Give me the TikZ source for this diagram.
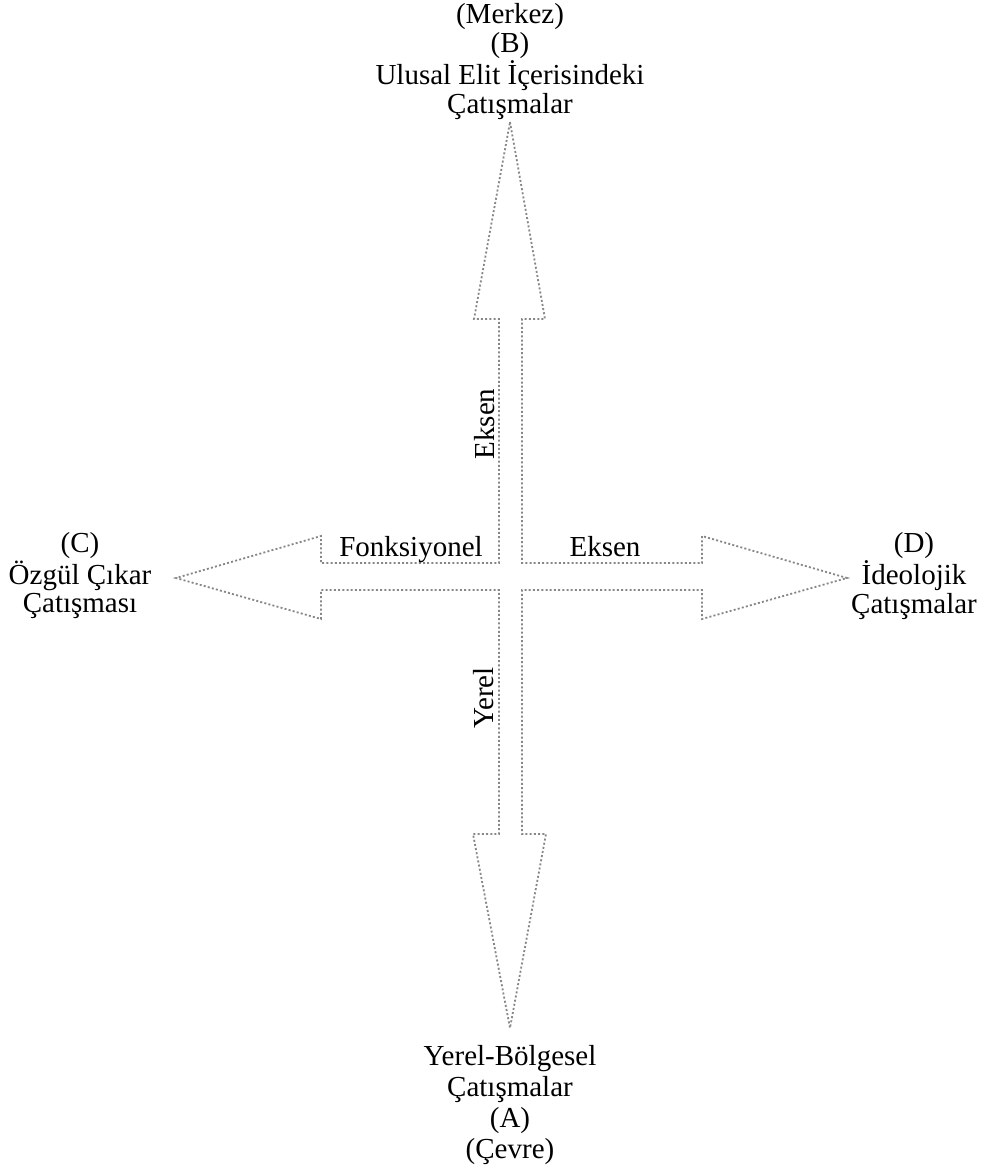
\documentclass[tikz,border=0pt]{standalone}
\usepackage{fontspec}
\setmainfont{Liberation Serif}
\usetikzlibrary{positioning}

\definecolor{dotgray}{RGB}{135,135,135}

\tikzset{
  outline/.style={draw=dotgray, line width=0.9pt, dash pattern=on 1pt off 1.1pt},
  lbl/.style={align=center, inner sep=0pt, font=\fontsize{14.5}{14.4}\selectfont},
}

\begin{document}
\begin{tikzpicture}[x=0.5pt, y=-0.5pt]
    % Frame of the picture
    \useasboundingbox (0,0) rectangle (982,1174);

    % Cross of four arrows
    \draw[outline] (510,122) -- (545,319) -- (522,319) -- (522,563)
        -- (702,563) -- (702,536) -- (847,578) -- (702,619) -- (702,590)
        -- (522,590) -- (522,834) -- (546,834) -- (510,1028) -- (473,834)
        -- (499,834) -- (499,590) -- (321,590) -- (321,619) -- (176,578)
        -- (321,536) -- (321,563) -- (499,563) -- (499,319) -- (474,319)
        -- cycle;

    % End labels
    \node[lbl, anchor=north] (merkez) at (510,3)
        {(Merkez)\\(B)\\Ulusal Elit İçerisindeki\\Çatışmalar};
    \node[lbl, anchor=north, font=\fontsize{14.5}{15.5}\selectfont] (cevre) at (510,1045)
        {Yerel-Bölgesel\\Çatışmalar\\(A)\\(Çevre)};
    \node[lbl, anchor=north] (ozgul) at (80,532)
        {(C)\\Özgül Çıkar\\Çatışması};
    \node[lbl, anchor=north] (ideo) at (914,532)
        {(D)\\İdeolojik\\Çatışmalar};

    % Axis labels
    \node[lbl, anchor=base] (fonk) at (411,556) {Fonksiyonel};
    \node[lbl, anchor=base] (ekseny) at (605,556) {Eksen};
    \node[lbl, anchor=base, rotate=90] (eksend) at (494,424) {Eksen};
    \node[lbl, anchor=base, rotate=90] (yerel) at (493,698) {Yerel};
\end{tikzpicture}
\end{document}
